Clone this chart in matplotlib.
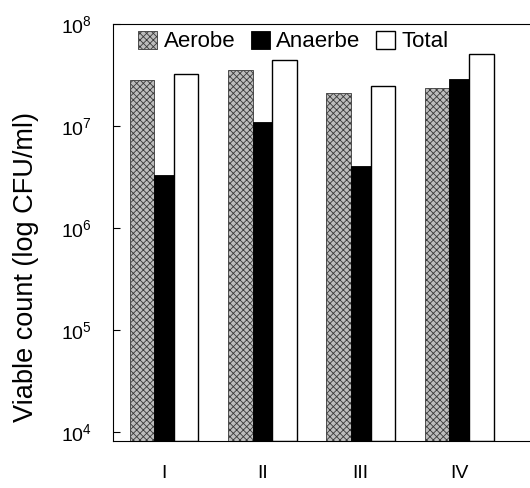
import matplotlib

matplotlib.use("Agg")
import matplotlib.pyplot as plt
import numpy as np

# viable counts (CFU/ml)
groups = ["I", "II", "III", "IV"]
aerobe = [2.8e7, 3.5e7, 2.1e7, 2.35e7]
anaerobe = [3.3e6, 1.1e7, 4.0e6, 2.9e7]
total = [3.2e7, 4.4e7, 2.45e7, 5.1e7]
yticks = [1e4, 1e5, 1e6, 1e7, 1e8]

plt.rcParams["font.family"] = ["Liberation Sans Narrow", "Liberation Sans", "DejaVu Sans"]
plt.rcParams["mathtext.default"] = "regular"
plt.rcParams["hatch.linewidth"] = 0.6

fig = plt.figure(figsize=(5.3, 4.88), dpi=100)
ax = fig.add_axes([0.213, 0.0963, 0.787, 0.855])
ax.set_yscale("log")
ymin, ymax = 10 ** 3.91, 1e8
ax.set_ylim(ymin, ymax)

x = np.arange(len(groups))
w_a, w_n, w_t = 0.25, 0.20, 0.25
ax.bar(x - w_n / 2 - w_a / 2, np.array(aerobe) - ymin, bottom=ymin, width=w_a,
       color="#bdbdbd", edgecolor="#3a3a3a", hatch="xxxxx", linewidth=0.6, label="Aerobe")
ax.bar(x, np.array(anaerobe) - ymin, bottom=ymin, width=w_n,
       color="black", edgecolor="black", linewidth=0.6, label="Anaerbe")
ax.bar(x + w_n / 2 + w_t / 2, np.array(total) - ymin, bottom=ymin, width=w_t,
       color="white", edgecolor="black", linewidth=1.0, label="Total")

ax.set_xlim(-0.52, 3.72)
ax.set_xticks(x)
ax.set_xticklabels(groups, fontsize=14)
ax.tick_params(axis="x", length=0, pad=17)

ax.set_yticks(yticks)
ax.set_yticklabels([r"$10^{%d}$" % int(np.log10(v)) for v in yticks], fontsize=14)
ax.yaxis.set_minor_locator(matplotlib.ticker.NullLocator())
ax.tick_params(axis="y", direction="in", length=5, width=0.8, pad=15)

ax.spines["right"].set_visible(False)
for s in ["left", "top", "bottom"]:
    ax.spines[s].set_linewidth(0.8)

ax.set_ylabel("Viable count (log CFU/ml)", fontsize=19.5)
ax.yaxis.set_label_coords(-0.176, 0.417)

ax.legend(loc="upper left", bbox_to_anchor=(0.028, 1.015), ncol=3, frameon=False,
          fontsize=16, handlelength=0.85, handleheight=0.85, handletextpad=0.3,
          columnspacing=0.7, borderaxespad=0.2)

plt.savefig("out.png", dpi=100)
plt.close()
